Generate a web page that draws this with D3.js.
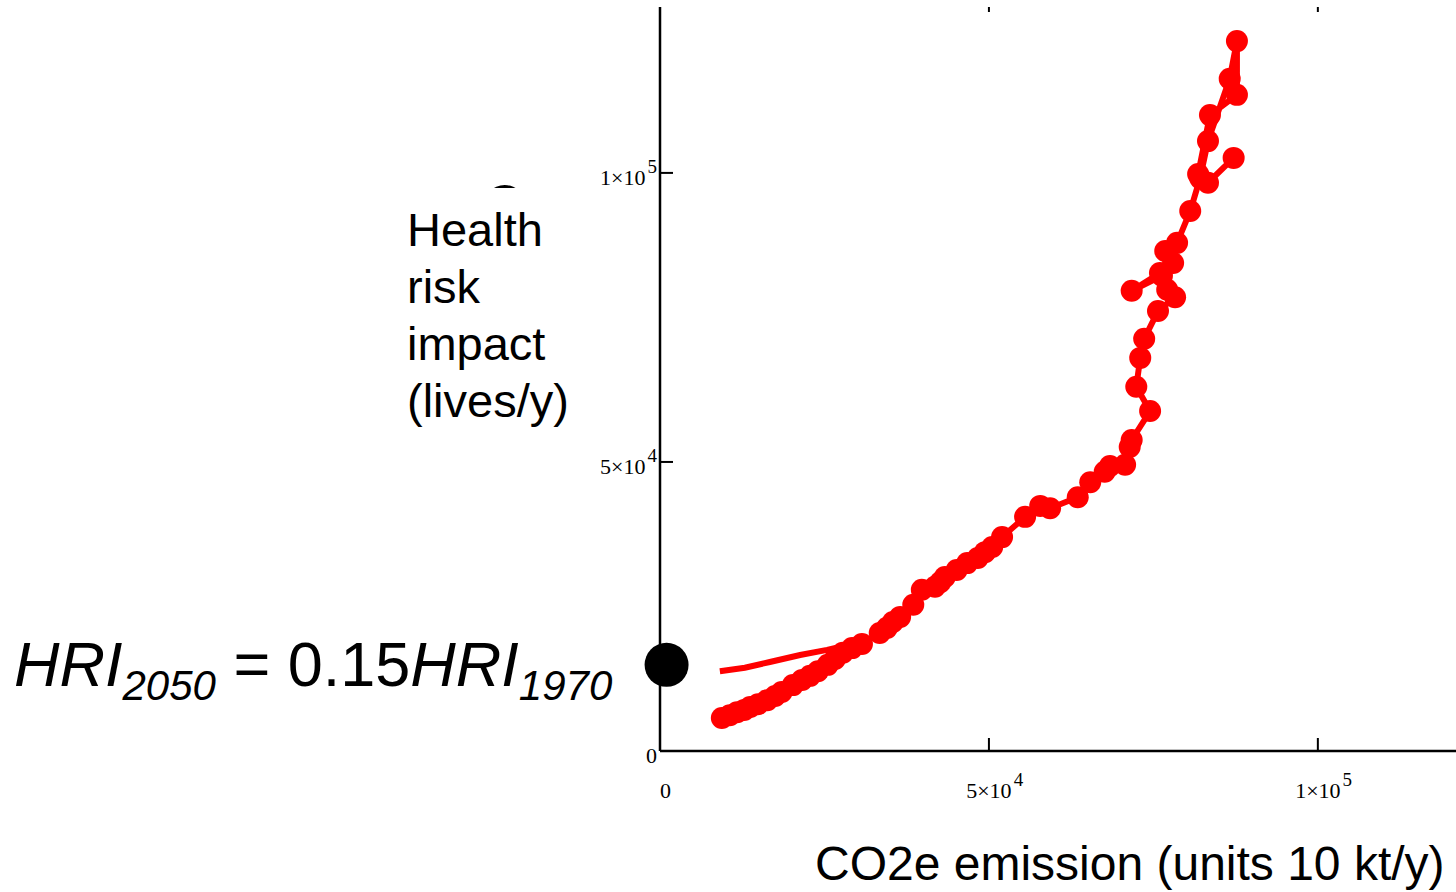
<!DOCTYPE html>
<html>
<head>
<meta charset="utf-8">
<script src="https://cdn.jsdelivr.net/npm/d3@7"></script>
<style>
body { margin: 0; background: #fff; }
svg { display: block; }
</style>
</head>
<body>
<svg id="chart" width="1456" height="892"></svg>
<script>
// CO2e emission (10 kt/y) against health risk impact (lives/y), in path order
var emission = [87200, 83300, 81800, 83600, 87700, 87700, 86600, 83300, 82100, 80600,
    78600, 76800, 78000, 76000, 71700, 76300, 77100, 78300, 75700, 73600,
    73000, 72400, 74500, 71700, 71400, 70700, 68400, 67600, 65400, 63500,
    59300, 57800, 55500, 52000, 50500, 49400, 48300, 46700, 45100, 43300,
    42600, 41800, 39800, 38500, 36500, 35400, 34500, 33400, 30700, 29200,
    27800, 26600, 25500, 24000, 22800, 21600, 20200, 18500, 17500, 16300,
    14900, 13700, 12800, 11700, 10600, 9400];
var risk = [102600, 98300, 99800, 110000, 113500, 122800, 116300, 105500, 99100, 93400,
    87900, 86500, 84400, 82700, 79600, 82200, 79800, 78500, 76100, 71300,
    68000, 63000, 58800, 53800, 52600, 49500, 49300, 48300, 46500, 43900,
    42000, 42400, 40500, 37000, 35300, 34400, 33400, 32500, 31300, 30100,
    29200, 28400, 27900, 25300, 23200, 22300, 21300, 20400, 18500, 17800,
    17000, 15900, 14900, 13800, 13000, 12300, 11400, 10200, 9500, 8800,
    8100, 7600, 7100, 6700, 6200, 5700];

// second trajectory, drawn as a plain line
var altEmission = [9100, 12900, 16700, 21300, 25400, 28100, 30700];
var altRisk = [13800, 14400, 15400, 16600, 17500, 18200, 18500];

// black reference points
var dotEmission = [1000, -23600];
var dotRisk = [14900, 94100];

var xTicks = [0, 50000, 100000];
var yTicks = [0, 50000, 100000];
var yTitle = ['Health', 'risk', 'impact', '(lives/y)'];
var xTitle = 'CO2e emission (units 10 kt/y)';

var svg = d3.select('#chart');

var x = d3.scaleLinear().domain([0, 121000]).range([660, 1456]);
var y = d3.scaleLinear().domain([0, 128700]).range([751, 7]);

function sciParts(v)
{
    if (v == 0)
        return ['0', ''];
    var e = Math.floor(Math.log10(v));
    var m = Math.round(v / Math.pow(10, e));
    return [m + '\u00d710', String(e)];
}

var serif = '"Liberation Serif", "Times New Roman", serif';
var sans = '"Liberation Sans", Arial, sans-serif';

// y axis
svg.append('line')
    .attr('x1', x(0)).attr('x2', x(0))
    .attr('y1', y.range()[1]).attr('y2', y(0))
    .style('stroke', '#000').style('stroke-width', 2.5);

// x axis
svg.append('line')
    .attr('x1', x(0)).attr('x2', x.range()[1])
    .attr('y1', y(0)).attr('y2', y(0))
    .style('stroke', '#000').style('stroke-width', 2.5);

// ticks, drawn inwards
svg.selectAll('.yTick').data(yTicks.filter(function(v) { return v > 0; }))
    .enter().append('line').classed('yTick', true)
    .attr('x1', x(0)).attr('x2', x(0) + 13)
    .attr('y1', function(v) { return y(v); })
    .attr('y2', function(v) { return y(v); })
    .style('stroke', '#000').style('stroke-width', 2);

svg.selectAll('.xTick').data(xTicks.filter(function(v) { return v > 0; }))
    .enter().append('line').classed('xTick', true)
    .attr('x1', function(v) { return x(v); })
    .attr('x2', function(v) { return x(v); })
    .attr('y1', y(0)).attr('y2', y(0) - 13)
    .style('stroke', '#000').style('stroke-width', 2);

// small ticks on the top edge
svg.selectAll('.topTick').data(xTicks.filter(function(v) { return v > 0; }))
    .enter().append('line').classed('topTick', true)
    .attr('x1', function(v) { return x(v); })
    .attr('x2', function(v) { return x(v); })
    .attr('y1', y.range()[1]).attr('y2', y.range()[1] + 5)
    .style('stroke', '#000').style('stroke-width', 2);

// y tick labels
yTicks.forEach(function(v) {
    var parts = sciParts(v);
    var t = svg.append('text')
        .attr('x', x(0) - 3)
        .attr('y', y(v) + 12)
        .attr('text-anchor', 'end')
        .style('font-family', serif)
        .style('font-size', '22px');
    t.append('tspan').text(parts[0]);
    if (parts[1] != '')
        t.append('tspan').attr('dx', 2).attr('dy', -12).style('font-size', '19px').text(parts[1]);
});

// x tick labels, mantissa centred on the tick
xTicks.forEach(function(v) {
    var parts = sciParts(v);
    var base = svg.append('text')
        .attr('y', 798)
        .style('font-family', serif)
        .style('font-size', '22px')
        .text(parts[0]);
    var w = base.node().getComputedTextLength();
    var x0 = (v == 0) ? x(v) : x(v) - w / 2;
    base.attr('x', x0);
    if (parts[1] != '') {
        svg.append('text')
            .attr('x', x0 + w + 2)
            .attr('y', 786)
            .style('font-family', serif)
            .style('font-size', '19px')
            .text(parts[1]);
    }
});

// main trajectory
var idx = d3.range(emission.length);
var line = d3.line()
    .x(function(i) { return x(emission[i]); })
    .y(function(i) { return y(risk[i]); });

svg.append('path')
    .attr('d', line(idx))
    .style('fill', 'none')
    .style('stroke', '#ff0000')
    .style('stroke-width', 6)
    .style('stroke-linejoin', 'round');

var altLine = d3.line()
    .x(function(i) { return x(altEmission[i]); })
    .y(function(i) { return y(altRisk[i]); });

svg.append('path')
    .attr('d', altLine(d3.range(altEmission.length)))
    .style('fill', 'none')
    .style('stroke', '#ff0000')
    .style('stroke-width', 6);

svg.selectAll('.marker').data(idx)
    .enter().append('circle').classed('marker', true)
    .attr('cx', function(i) { return x(emission[i]); })
    .attr('cy', function(i) { return y(risk[i]); })
    .attr('r', 11)
    .style('fill', '#ff0000');

svg.selectAll('.dot').data(d3.range(dotEmission.length))
    .enter().append('circle').classed('dot', true)
    .attr('cx', function(i) { return x(dotEmission[i]); })
    .attr('cy', function(i) { return y(dotRisk[i]); })
    .attr('r', 22)
    .style('fill', '#000');

// y title sits on a white box
svg.append('rect')
    .attr('x', 400).attr('y', 188)
    .attr('width', 180).attr('height', 248)
    .style('fill', '#fff');

svg.selectAll('.yTitle').data(yTitle)
    .enter().append('text').classed('yTitle', true)
    .attr('x', 407)
    .attr('y', function(s, i) { return 246 + i * 57; })
    .style('font-family', sans)
    .style('font-size', '47px')
    .text(function(s) { return s; });

svg.append('text')
    .attr('x', 815)
    .attr('y', 880)
    .style('font-family', sans)
    .style('font-size', '48px')
    .text(xTitle);

// equation
var eq = svg.append('text')
    .attr('x', 14)
    .attr('y', 686)
    .style('font-family', sans)
    .style('font-size', '63px');
eq.append('tspan').style('font-style', 'italic').text('HRI');
eq.append('tspan').style('font-style', 'italic').style('font-size', '42px').attr('dy', 14).text('2050');
eq.append('tspan').attr('dy', -14).text(' = 0.15');
eq.append('tspan').style('font-style', 'italic').text('HRI');
eq.append('tspan').style('font-style', 'italic').style('font-size', '42px').attr('dy', 14).text('1970');
</script>
</body>
</html>
